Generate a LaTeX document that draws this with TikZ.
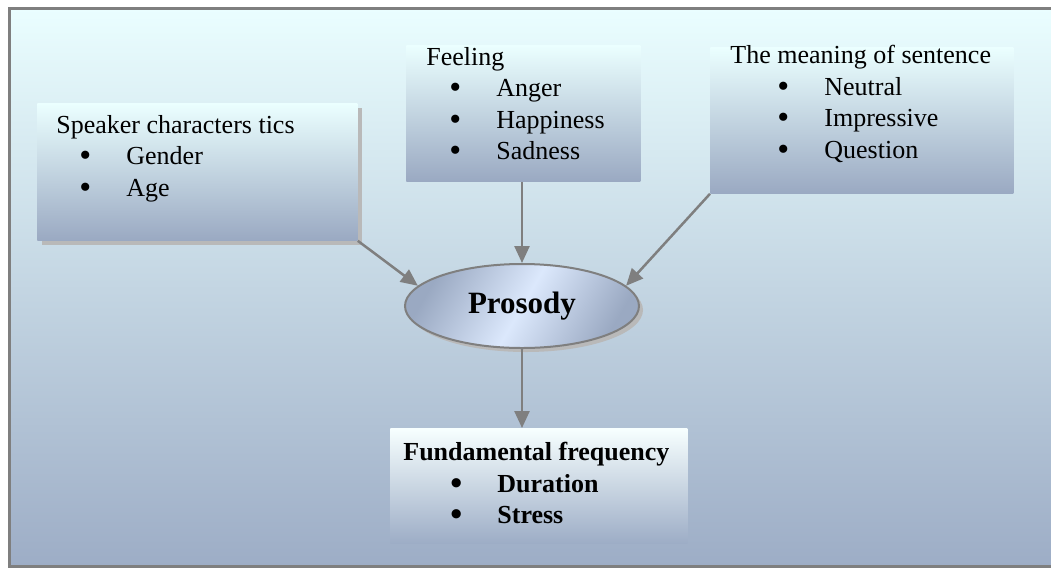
\documentclass[tikz,border=0pt]{standalone}
\usepackage{fontspec}
\setmainfont{Liberation Serif}
\usetikzlibrary{arrows.meta,shapes.geometric,shadows}

\definecolor{bglight}{HTML}{EAFEFF}
\definecolor{bgmid}{HTML}{C6DBFA}
\definecolor{bgdark}{HTML}{9DADC6}
\definecolor{boxlight}{HTML}{EBFFFF}
\definecolor{boxmid}{HTML}{C4D9FA}
\definecolor{boxdark}{HTML}{9AA9C2}
\definecolor{linegray}{HTML}{7F7F7F}

\newcommand{\itm}[2][11.5pt]{\hspace*{#1}\makebox[23.5pt][l]{\smash{\raisebox{-1pt}{\fontsize{17}{0}\selectfont\textbullet}}}#2}

\tikzset{
  infobox/.style={rectangle, anchor=north west, inner sep=0pt,
    top color=boxlight, middle color=boxmid, bottom color=boxdark},
  boxtext/.style={anchor=north west, inner sep=0pt, align=left,
    font=\fontsize{13}{15.75}\selectfont},
  flow/.style={draw=linegray, line width=1.25pt,
    -{Triangle[length=8.5pt,width=7.5pt]}},
  cloud/.style={ellipse, draw=linegray, line width=1pt,
    minimum width=117pt, minimum height=42pt,
    top color=boxdark, bottom color=boxdark, middle color=boxmid!60!white,
    shading angle=60,
    drop shadow={shadow xshift=2pt, shadow yshift=-2pt, fill=gray!55, opacity=1},
    font=\fontsize{15.5}{18}\selectfont\bfseries}
}

\begin{document}
\begin{tikzpicture}[x=0.5pt, y=-0.5pt]
\useasboundingbox (0,0) rectangle (1051,569);

% background and frame
\shade[top color=bglight, middle color=bgmid, bottom color=bgdark] (9,8) rectangle (1060,566);
\draw[linegray, line width=1.5pt] (9,8) rectangle (1060,566);

% the four boxes
\node[infobox, minimum width=160pt, minimum height=68.5pt,
  drop shadow={shadow xshift=2.5pt, shadow yshift=-2.5pt, fill=gray!55, opacity=1}]
  (speaker) at (37,103) {};
\node[boxtext] (speakertxt) at (56,115)
  {Speaker characters tics\\ \itm{Gender}\\ \itm{Age}};

\node[infobox, minimum width=117pt, minimum height=68pt] (feeling) at (406,45) {};
\node[boxtext] (feelingtxt) at (426,47)
  {Feeling\\ \itm{Anger}\\ \itm{Happiness}\\ \itm{Sadness}};

\node[infobox, minimum width=151.5pt, minimum height=73pt] (meaning) at (710,47) {};
\node[boxtext] (meaningtxt) at (730,45)
  {The meaning of sentence\\ \itm[23.5pt]{Neutral}\\ \itm[23.5pt]{Impressive}\\ \itm[23.5pt]{Question}};

\node[infobox, minimum width=148.5pt, minimum height=57.5pt,
  top color=white!60!boxlight, middle color=boxmid, bottom color=bgdark] (fundamental) at (390,428) {};
\node[boxtext, font=\fontsize{13}{15.75}\selectfont\bfseries] (fundamentaltxt) at (403,442)
  {Fundamental frequency\\ \itm[23.5pt]{Duration}\\ \itm[23.5pt]{Stress}};

% centre
\node[cloud] (prosody) at (522,306) {Prosody};

% connectors
\draw[flow] (speaker.south east) -- (prosody.169);
\draw[flow] (feeling.south -| prosody.north) -- (prosody.north);
\draw[flow] (meaning.south west) -- (prosody.11);
\draw[flow] (prosody.south) -- (prosody.south |- fundamental.north);
\end{tikzpicture}
\end{document}
